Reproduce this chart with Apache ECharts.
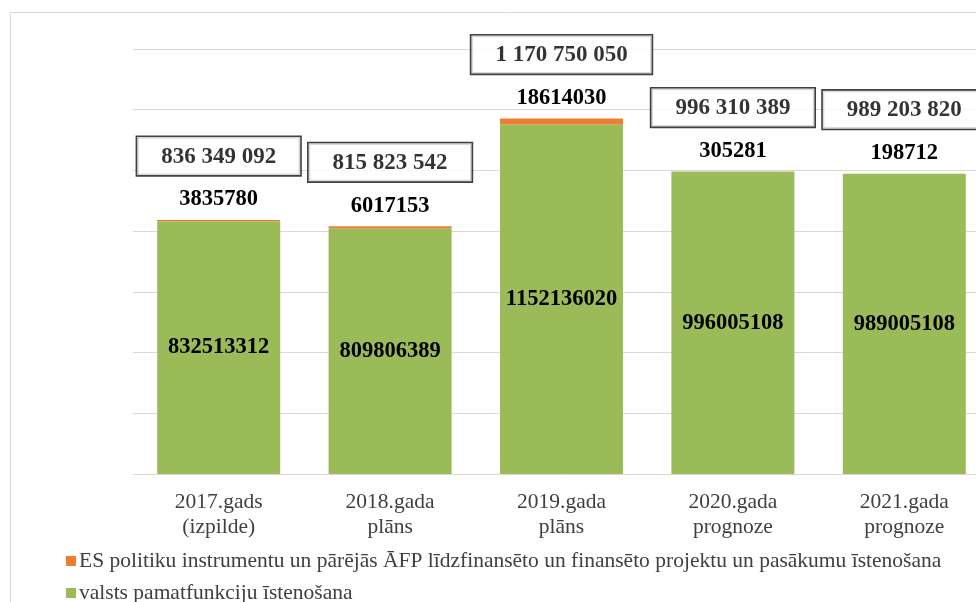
<!DOCTYPE html>
<html>
<head>
<meta charset="utf-8">
<script src="https://cdn.jsdelivr.net/npm/echarts@6/dist/echarts.min.js"></script>
<style>
html,body{margin:0;padding:0;background:#fff;overflow:hidden;width:976px;height:602px;}
#chart{width:1000px;height:602px;}
</style>
</head>
<body>
<div id="chart"></div>
<script>
const categories = ['2017.gads\n(izpilde)', '2018.gada\nplāns', '2019.gada\nplāns', '2020.gada\nprognoze', '2021.gada\nprognoze'];
const seriesNames = ['ES politiku instrumentu un pārējās ĀFP līdzfinansēto un finansēto projektu un pasākumu īstenošana', 'valsts pamatfunkciju īstenošana'];
const esValues = [3835780, 6017153, 18614030, 305281, 198712];
const valstsValues = [832513312, 809806389, 1152136020, 996005108, 989005108];
const totals = [836349092, 815823542, 1170750050, 996310389, 989203820];
const yMax = 1400000000;
const yInterval = 200000000;

const serif = "'Liberation Serif', 'Times New Roman', serif";
function spaced(v) { return String(v).replace(/\B(?=(\d{3})+(?!\d))/g, ' '); }

const legendBase = {
  orient: 'horizontal', left: 61,
  itemWidth: 10, itemHeight: 10, itemGap: 10,
  icon: 'rect',
  textStyle: {fontFamily: serif, fontSize: 21.5, color: '#404040', padding: [0, 0, 0, -2]}
};

const chart = echarts.init(document.getElementById('chart'), null, {renderer: 'canvas'});
chart.setOption({
  animation: false,
  backgroundColor: '#fff',
  graphic: [{
    type: 'rect', left: 8, top: 10, z: -10,
    shape: {width: 1100, height: 700},
    style: {fill: 'none', stroke: '#d9d9d9', lineWidth: 1}
  }],
  grid: {left: 133, right: 10, top: 49, bottom: 128},
  legend: [
    Object.assign({}, legendBase, {data: [seriesNames[0]], top: 545}),
    Object.assign({}, legendBase, {data: [seriesNames[1]], top: 577})
  ],
  xAxis: {
    type: 'category',
    data: categories,
    axisLine: {lineStyle: {color: '#d9d9d9'}},
    axisTick: {show: false},
    axisLabel: {fontFamily: serif, fontSize: 21.5, color: '#404040', lineHeight: 25, margin: 16, interval: 0}
  },
  yAxis: {
    type: 'value', min: 0, max: yMax, interval: yInterval,
    axisLabel: {show: false}, axisLine: {show: false}, axisTick: {show: false},
    splitLine: {lineStyle: {color: '#d9d9d9'}}
  },
  series: [
    {
      name: seriesNames[1], type: 'bar', stack: 'a', data: valstsValues, barWidth: 123,
      itemStyle: {color: '#9BBB59'},
      label: {show: true, position: 'inside', fontFamily: serif, fontSize: 22.5, fontWeight: 'bold', color: '#000'}
    },
    {
      name: seriesNames[0], type: 'bar', stack: 'a', data: esValues, barWidth: 123,
      itemStyle: {color: '#ED7D31'},
      label: {show: true, position: 'top', distance: 9, fontFamily: serif, fontSize: 22.5, fontWeight: 'bold', color: '#000'}
    },
    {
      name: 'Kopā', type: 'scatter', data: totals, symbolSize: 0, z: 5,
      label: {
        show: true, position: 'top', distance: 45,
        formatter: p => spaced(p.value),
        fontFamily: serif, fontSize: 23, fontWeight: 'bold', color: '#000',
        backgroundColor: '#fff', borderColor: '#111', borderWidth: 1.6,
        padding: [8, 24, 7, 24]
      }
    }
  ]
});
</script>
</body>
</html>
